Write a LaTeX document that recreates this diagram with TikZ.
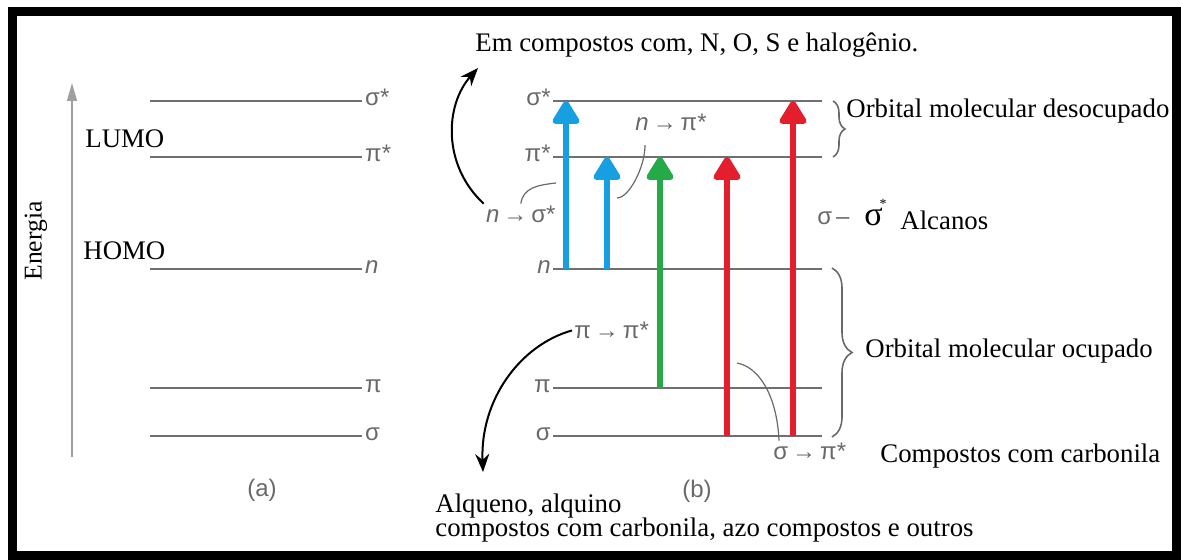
\documentclass[tikz,border=0pt]{standalone}
\usepackage{fontspec}
\setmainfont{Liberation Serif}
\setsansfont{Liberation Sans}
\usetikzlibrary{arrows.meta,decorations.pathreplacing}

\definecolor{lvlgray}{RGB}{112,112,112}
\definecolor{lblgray}{RGB}{105,105,105}
\definecolor{exblue}{RGB}{22,160,226}
\definecolor{exgreen}{RGB}{38,170,72}
\definecolor{exred}{RGB}{228,30,45}

\begin{document}
\begin{tikzpicture}[
  x=0.5pt, y=-0.5pt,
  lvl/.style={draw=lvlgray, line width=1.2pt},
  orb/.style={font=\sffamily\fontsize{12}{12}\selectfont, text=lblgray, inner sep=1pt},
  txt/.style={font=\fontsize{13.4}{15}\selectfont, inner sep=0pt},
  exc/.style={line width=3pt, -{Triangle[width=15pt,length=13pt,round]}},
  bendarr/.style={line width=1pt, -{Stealth[length=9pt,width=7pt]}},
  ptr/.style={draw=lblgray, line width=0.6pt},
  brc/.style={draw=lblgray, line width=0.8pt, decorate}
]
\useasboundingbox (0,0) rectangle (1181,560);

% Frame
\draw[line width=4.75pt] (12.5,11.5) rectangle (1176.5,555.5);

% (a) energy axis
\coordinate (axb) at (72,457);
\coordinate (axt) at (72,83);
\draw[draw=gray!75, line width=0.8pt, -{Triangle[width=5pt,length=9pt]}] (axb) -- (axt);
\node[txt, rotate=90, font=\fontsize{12.8}{14}\selectfont] (energia) at (36,241) {Energia};
\node[txt, anchor=base west] (lumo) at (85,148) {LUMO};
\node[txt, anchor=base west] (homo) at (83,260) {HOMO};

% (a) levels
\coordinate (aSS) at (150,101);
\coordinate (aPS) at (150,157);
\coordinate (aN) at (150,269);
\coordinate (aP) at (150,388);
\coordinate (aS) at (150,436);
\draw[lvl] (aSS) -- ++(212,0) node[orb, anchor=mid west] (aSSl) {σ*};
\draw[lvl] (aPS) -- ++(212,0) node[orb, anchor=mid west] (aPSl) {π*};
\draw[lvl] (aN) -- ++(212,0) node[orb, anchor=mid west] (aNl) {\textit{n}};
\draw[lvl] (aP) -- ++(212,0) node[orb, anchor=mid west] (aPl) {π};
\draw[lvl] (aS) -- ++(212,0) node[orb, anchor=mid west] (aSl) {σ};
\node[orb] (pa) at (262,490) {(a)};

% (b) levels
\coordinate (bSS) at (553,101);
\coordinate (bPS) at (553,157);
\coordinate (bN) at (553,269);
\coordinate (bP) at (553,388);
\coordinate (bS) at (553,436);
\draw[lvl] (bSS) -- ++(269,0);
\draw[lvl] (bPS) -- ++(269,0);
\draw[lvl] (bN) -- ++(269,0);
\draw[lvl] (bP) -- ++(269,0);
\draw[lvl] (bS) -- ++(269,0);
\node[orb, anchor=mid east] (bSSl) at (bSS) {σ*};
\node[orb, anchor=mid east] (bPSl) at (bPS) {π*};
\node[orb, anchor=mid east] (bNl) at (bN) {\textit{n}};
\node[orb, anchor=mid east] (bPl) at (bP) {π};
\node[orb, anchor=mid east] (bSl) at (bS) {σ};
\node[orb] (pb) at (697,491) {(b)};

% Transitions
\draw[exc, exblue] (566,0 |- bN) -- (566,0 |- bSS);
\draw[exc, exblue] (607,0 |- bN) -- (607,0 |- bPS);
\draw[exc, exgreen] (660,0 |- bP) -- (660,0 |- bPS);
\draw[exc, exred] (727,0 |- bS) -- (727,0 |- bPS);
\draw[exc, exred] (793,0 |- bS) -- (793,0 |- bSS);

% Transition labels
\node[orb, anchor=mid east] (nsig) at (558,218) {\textit{n}\,→\,σ*};
\node[orb, anchor=mid west] (npi) at (633,126) {\textit{n}\,→\,π*};
\node[orb, anchor=mid west] (pipi) at (572,334) {π\,→\,π*};
\node[orb, anchor=mid west] (spi) at (771,455) {σ\,→\,π*};

% Pointers
\coordinate (nsigp) at (556,183);
\coordinate (npip) at (617,198);
\coordinate (spip) at (737,363);
\draw[ptr] (nsig.north) .. controls +(2,-16) and +(-18,2) .. (nsigp);
\draw[ptr] ([xshift=6pt,yshift=-6pt]npi.south west) .. controls +(0,22) and +(12,0) .. (npip);
\draw[ptr] ([xshift=4pt]spi.north west) .. controls +(-2,-45) and +(22,4) .. (spip);

% Braces
\draw[brc, decoration={brace, amplitude=6pt}] (833,101) -- (833,157);
\draw[brc, decoration={brace, amplitude=10pt}] (832,268) -- (832,437);

% Right side texts
\node[txt, anchor=base west] (desoc) at (846,118) {Orbital molecular desocupado};
\node[orb, anchor=mid west] (sg) at (815,220) {σ\,–};
\node[txt, anchor=base west, font=\fontsize{17}{17}\selectfont] (bigs) at (864,226) {σ\kern-1.5pt\raisebox{1.1ex}{\scriptsize*}};
\node[txt, anchor=base west] (alc) at (900,230) {Alcanos};
\node[txt, anchor=base west] (ocup) at (865,358) {Orbital molecular ocupado};
\node[txt, anchor=base west] (carb) at (880,462) {Compostos com carbonila};

% Top and bottom texts
\node[txt, anchor=base west] (em) at (475,52) {Em compostos com, N, O, S e halogênio.};
\node[txt, anchor=base west] (alq) at (435,512) {Alqueno, alquino};
\node[txt, anchor=base west] (azo) at (435,536) {compostos com carbonila, azo compostos e outros};

% Curved arrows
\coordinate (topend) at (478,68);
\coordinate (botend) at (483,472);
\draw[bendarr] (nsig.north west) .. controls (442,165) and (445,105) .. (topend);
\draw[bendarr] (pipi.west) .. controls (520,345) and (480,400) .. (botend);

\end{tikzpicture}
\end{document}
